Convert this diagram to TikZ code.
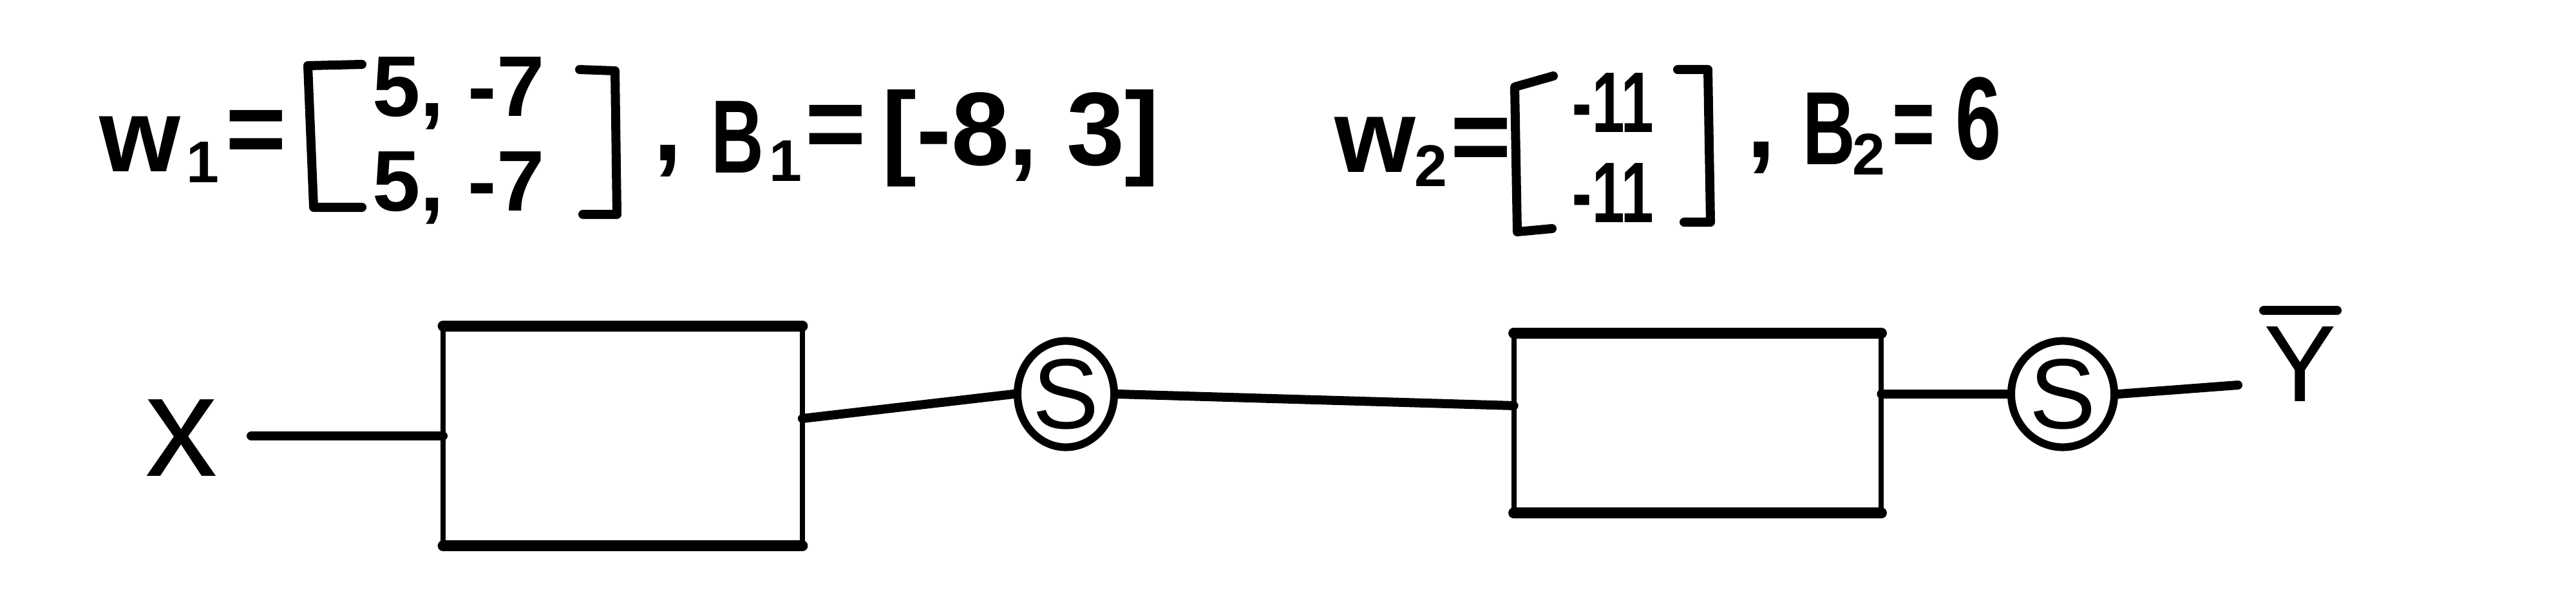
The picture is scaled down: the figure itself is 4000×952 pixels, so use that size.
\documentclass[tikz,border=0pt]{standalone}
\usepackage{fontspec}
\usepackage{graphicx}
\setmainfont{Liberation Sans}
\usetikzlibrary{shapes.geometric}
\newcommand{\narrow}[1]{\scalebox{0.7}[1]{#1}}
\begin{document}
\begin{tikzpicture}[x=0.01cm,y=-0.01cm,
  hand/.style={line width=0.14cm, line cap=round, line join=round},
  edge/.style={line width=0.17cm, line cap=round, line join=round},
  side/.style={line width=0.08cm, line cap=round},
  txt/.style={font=\fontsize{46}{50}\selectfont\bfseries, inner sep=0},
  sub/.style={font=\fontsize{26}{30}\selectfont\bfseries, inner sep=0},
  ent/.style={font=\fontsize{38}{42}\selectfont\bfseries, inner sep=0},
  sig/.style={ellipse, draw, line width=0.12cm, inner sep=0, font=\fontsize{44}{48}\selectfont}
]
\useasboundingbox (0,0) rectangle (4000,952);

% ---- w1 ----
\node[txt] (w1) at (217,224) {w};
\node[sub] (w1s) at (315,252) {1};
\node[txt] (eq1) at (398,213) {=};
\draw[hand] (562,100) -- (478,102) -- (487,322) -- (562,322);
\node[ent] (r11) at (712,145) {5, -7};
\node[ent] (r12) at (712,292) {5, -7};
\draw[hand] (900,108) -- (955,110) -- (958,333) -- (905,333);
\node[txt] (c1) at (1037,250) {,};
% ---- b1 ----
\node[txt] (b1) at (1145,213) {\narrow{B}};
\node[sub] (b1s) at (1220,250) {1};
\node[txt] (eq2) at (1298,205) {=};
\node[txt] (b1v) at (1585,215) {[-8, 3]};

% ---- w2 ----
\node[txt] (w2) at (2135,225) {w};
\node[sub] (w2s) at (2222,258) {2};
\node[txt] (eq3) at (2300,225) {=};
\draw[hand] (2412,118) -- (2352,135) -- (2356,360) -- (2410,355);
\node[ent] (r21) at (2505,160) {\scalebox{0.68}[1]{-11}};
\node[ent] (r22) at (2505,300) {\scalebox{0.68}[1]{-11}};
\draw[hand] (2605,108) -- (2652,108) -- (2656,345) -- (2615,345);
\node[txt] (c2) at (2735,245) {,};
% ---- b2 ----
\node[txt] (b2) at (2840,200) {\narrow{B}};
\node[sub] (b2s) at (2902,240) {2};
\node[txt] (eq4) at (2972,205) {\narrow{=}};
\node[txt, font=\fontsize{52}{56}\selectfont\bfseries] (b2v) at (3072,185) {\narrow{6}};

% ---- diagram ----
\node[font=\fontsize{64}{68}\selectfont, inner sep=0] (xin) at (282,680) {x};
\coordinate (a0) at (390,677);

\node[minimum width=5.56cm, minimum height=3.4cm, inner sep=0] (box1) at (967,677) {};
\draw[edge] (box1.north west) -- (box1.north east);
\draw[edge] (box1.south west) -- (box1.south east);
\draw[side] (box1.north west) -- (box1.south west);
\draw[side] (box1.north east) -- (box1.south east);

\node[sig, minimum width=1.5cm, minimum height=1.65cm] (s1) at (1655,612) {S};

\node[minimum width=5.69cm, minimum height=2.78cm, inner sep=0] (box2) at (2636,657) {};
\draw[edge] (box2.north west) -- (box2.north east);
\draw[edge] (box2.south west) -- (box2.south east);
\draw[side] (box2.north west) -- (box2.south west);
\draw[side] (box2.north east) -- (box2.south east);

\node[sig, minimum width=1.6cm, minimum height=1.65cm] (s2) at (3203,612) {S};

\node[font=\fontsize{48}{52}\selectfont, inner sep=0] (yout) at (3572,565) {Y};
\draw[hand] ([yshift=0.24cm]yout.north west) -- ([yshift=0.24cm]yout.north east);
\coordinate (yend) at (3475,598);

\path (box1.east) ++(0,-27) coordinate (b1o);
\path (box2.west) ++(0,-27) coordinate (b2i);
\path (box2.east) ++(0,-45) coordinate (b2o);

\draw[hand] (a0) -- (box1.west);
\draw[hand] (b1o) -- (s1.west);
\draw[hand] (s1.east) -- (b2i);
\draw[hand] (b2o) -- (s2.west);
\draw[hand] (s2.east) -- (yend);
\end{tikzpicture}
\end{document}
